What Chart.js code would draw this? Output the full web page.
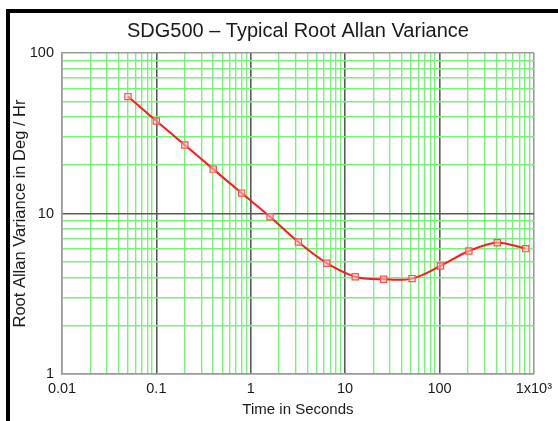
<!DOCTYPE html>
<html>
<head>
<meta charset="utf-8">
<script src="https://cdn.jsdelivr.net/npm/chart.js@4/dist/chart.umd.min.js"></script>
<style>
  html, body { margin: 0; padding: 0; background: #ffffff; }
  #wrap { position: relative; width: 558px; height: 421px; }
  canvas { display: block; }
</style>
</head>
<body>
<div id="wrap"><canvas id="c" width="558" height="421"></canvas></div>
<script>
// ---- data ----
const timeSeconds = [0.05, 0.1, 0.2, 0.4, 0.8, 1.6, 3.2, 6.4, 12.8, 25.6, 51.2, 102.4, 204.8, 409.6, 819.2];
const rootAllanVariance = [53.5, 37.7, 26.7, 18.9, 13.4, 9.55, 6.64, 4.9, 4.04, 3.89, 3.93, 4.71, 5.84, 6.58, 6.04];
const xDecades = [0.01, 0.1, 1, 10, 100, 1000];
const xTickLabels = ['0.01', '0.1', '1', '10', '100', '1x10\u00B3'];
const yDecades = [1, 10, 100];
const yTickLabels = ['1', '10', '100'];
const minorMultipliers = [1, 2, 3, 4, 5, 6, 7, 8, 9];

const FONT = "'Liberation Sans', Arial, Helvetica, sans-serif";
const GREEN = '#7cf07c';
const DARK = '#5a5a5a';
const EDGE = '#9a9a9a';

function gridValues(decades) {
  const out = [];
  for (let i = 0; i < decades.length - 1; i++) {
    for (const m of minorMultipliers) out.push(decades[i] * m);
  }
  out.push(decades[decades.length - 1]);
  return out;
}
function isDecade(v) {
  const l = Math.log10(v);
  return Math.abs(l - Math.round(l)) < 1e-9;
}
function labelFor(v, decades, labels) {
  for (let i = 0; i < decades.length; i++) {
    if (Math.abs(Math.log10(v) - Math.log10(decades[i])) < 1e-9) return labels[i];
  }
  return '';
}
function gridColor(decades) {
  return (ctx) => {
    const v = ctx.tick && ctx.tick.value;
    if (v === undefined) return GREEN;
    if (!isDecade(v)) return GREEN;
    if (Math.abs(v - decades[0]) < 1e-12 || Math.abs(v - decades[decades.length - 1]) < 1e-9) return EDGE;
    return DARK;
  };
}
function gridWidth(ctx) {
  const v = ctx.tick && ctx.tick.value;
  if (v !== undefined && isDecade(v)) return 1.6;
  return 1.4;
}

const framePlugin = {
  id: 'frame',
  beforeDraw(chart) {
    const c = chart.ctx;
    c.save();
    c.fillStyle = '#ffffff';
    c.fillRect(0, 0, chart.width, chart.height);
    c.fillStyle = '#000000';
    c.fillRect(6, 9, 4, chart.height - 9);
    c.fillRect(6, 9, chart.width - 6, 4);
    c.restore();
  }
};

const points = timeSeconds.map((t, i) => ({ x: t, y: rootAllanVariance[i] }));

new Chart(document.getElementById('c'), {
  type: 'line',
  data: {
    datasets: [{
      data: points,
      borderColor: '#ff1a1a',
      borderWidth: 2,
      tension: 0.35,
      pointStyle: 'rect',
      pointRadius: 4.4,
      pointBorderWidth: 1.2,
      pointBorderColor: '#ff5050',
      pointBackgroundColor: 'rgba(255,205,205,0.55)',
      fill: false
    }]
  },
  options: {
    responsive: false,
    animation: false,
    devicePixelRatio: 1,
    layout: { padding: { left: 0, right: 24, top: 0, bottom: 0 } },
    plugins: {
      legend: { display: false },
      tooltip: { enabled: false },
      title: {
        display: true,
        text: 'SDG500 \u2013 Typical Root Allan Variance',
        fullSize: false,
        color: '#1a1a1a',
        font: { family: FONT, size: 20, weight: 'normal', lineHeight: 1.2 },
        padding: { top: 19, bottom: 10 }
      }
    },
    scales: {
      x: {
        type: 'logarithmic',
        min: 0.01,
        max: 1000,
        afterBuildTicks: (s) => { s.ticks = gridValues(xDecades).map(v => ({ value: v })); },
        afterFit: (s) => { s.height = 47; },
        ticks: {
          autoSkip: false,
          maxRotation: 0,
          padding: 6,
          color: '#1a1a1a',
          font: { family: FONT, size: 14.5 },
          callback: (v) => labelFor(v, xDecades, xTickLabels)
        },
        grid: { color: gridColor(xDecades), lineWidth: gridWidth, drawTicks: false, tickLength: 0 },
        border: { color: EDGE, width: 1.5 },
        title: {
          display: true,
          text: 'Time in Seconds',
          color: '#1a1a1a',
          font: { family: FONT, size: 15, lineHeight: 1.2 },
          padding: { top: 0, bottom: 2 }
        }
      },
      y: {
        type: 'logarithmic',
        min: 1,
        max: 100,
        afterBuildTicks: (s) => { s.ticks = gridValues(yDecades).map(v => ({ value: v })); },
        afterFit: (s) => { s.width = 62; },
        ticks: {
          autoSkip: false,
          padding: 8,
          color: '#1a1a1a',
          font: { family: FONT, size: 14.5 },
          callback: (v) => labelFor(v, yDecades, yTickLabels)
        },
        grid: { color: gridColor(yDecades), lineWidth: gridWidth, drawTicks: false, tickLength: 0 },
        border: { color: EDGE, width: 1.5 },
        title: {
          display: true,
          text: 'Root Allan Variance in Deg / Hr',
          color: '#1a1a1a',
          font: { family: FONT, size: 16.5, lineHeight: 1.2 },
          padding: { top: 11, bottom: 0 }
        }
      }
    }
  },
  plugins: [framePlugin]
});
</script>
</body>
</html>
